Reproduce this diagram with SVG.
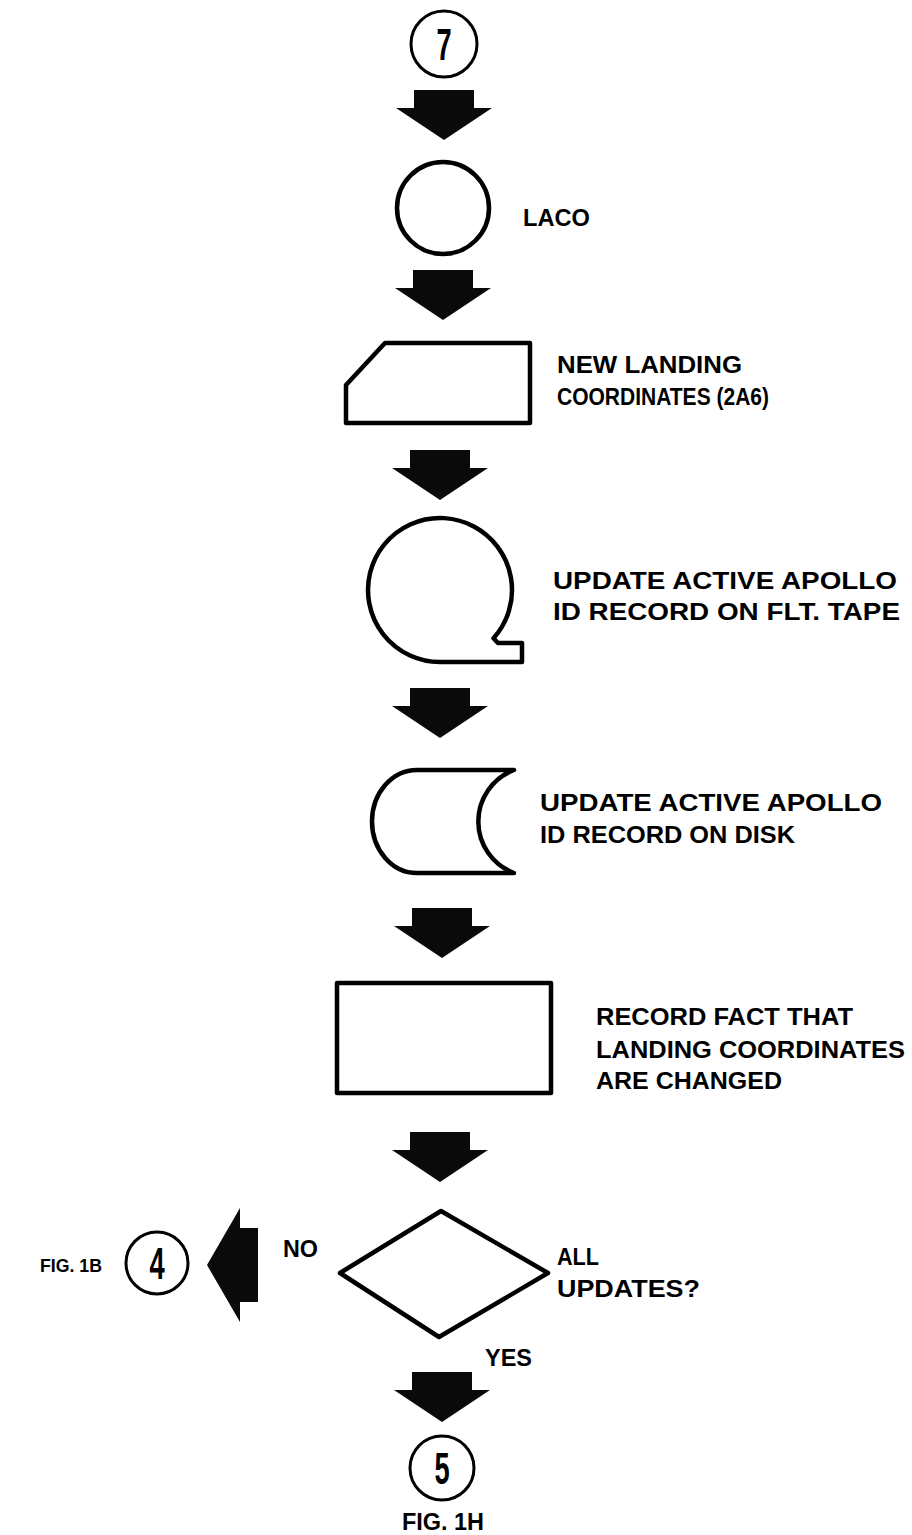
<svg xmlns="http://www.w3.org/2000/svg" width="912" height="1535" viewBox="0 0 912 1535">
<style>
.bg{fill:#fff}
.shape{fill:#fff;stroke:#000;stroke-width:4.5;stroke-linejoin:round}
.conn{fill:#fff;stroke:#000;stroke-width:3}
.arrow{fill:#0a0a0a}
.lbl{font-family:"Liberation Sans",Arial,sans-serif;font-weight:bold;font-size:23.5px;fill:#000}
.small{font-size:19px}
.num{font-family:"Liberation Sans",Arial,sans-serif;font-weight:bold;font-size:44px;fill:#000;text-anchor:middle}
</style>
<defs>
<path id="down" d="M -30 -50 L 30 -50 L 30 -32 L 48 -32 L 0 0 L -48 -32 L -30 -32 Z"/>
</defs>
<rect class="bg" x="0" y="0" width="912" height="1535"/>
<g id="connectors">
<use href="#down" class="arrow" transform="translate(444,140)"/>
<use href="#down" class="arrow" transform="translate(443,320)"/>
<use href="#down" class="arrow" transform="translate(440,500)"/>
<use href="#down" class="arrow" transform="translate(440,738)"/>
<use href="#down" class="arrow" transform="translate(442,958)"/>
<use href="#down" class="arrow" transform="translate(440,1182)"/>
<use href="#down" class="arrow" transform="translate(442,1422)"/>
<path class="arrow" d="M 207 1265 L 240 1208 L 240 1228 L 258 1228 L 258 1302 L 240 1302 L 240 1322 Z"/>
</g>
<g id="conn7">
<circle class="conn" cx="444" cy="44" r="33"/>
<text class="num" x="0" y="0" transform="translate(444,60) scale(0.62,1)">7</text>
</g>
<g id="laco">
<circle class="shape" cx="443" cy="208" r="46"/>
<text class="lbl" x="523" y="226" textLength="67" lengthAdjust="spacingAndGlyphs">LACO</text>
</g>
<g id="card">
<path class="shape" d="M 385 343 L 530 343 L 530 423 L 346 423 L 346 385 Z"/>
<text class="lbl" x="557" y="373" textLength="185" lengthAdjust="spacingAndGlyphs">NEW LANDING</text>
<text class="lbl" x="557" y="405" textLength="212" lengthAdjust="spacingAndGlyphs">COORDINATES (2A6)</text>
</g>
<g id="tape">
<path class="shape" d="M 440 662 A 72 72 0 1 1 493.5 638.2 L 498 643 L 522 643 L 522 662 Z"/>
<text class="lbl" x="553" y="589" textLength="344" lengthAdjust="spacingAndGlyphs">UPDATE ACTIVE APOLLO</text>
<text class="lbl" x="553" y="620" textLength="347" lengthAdjust="spacingAndGlyphs">ID RECORD ON FLT. TAPE</text>
</g>
<g id="disk">
<path class="shape" d="M 514 770 L 417 770 A 45 51.5 0 0 0 417 873 L 514 873 A 55 55 0 0 1 514 770 Z"/>
<text class="lbl" x="540" y="811" textLength="342" lengthAdjust="spacingAndGlyphs">UPDATE ACTIVE APOLLO</text>
<text class="lbl" x="540" y="843" textLength="255" lengthAdjust="spacingAndGlyphs">ID RECORD ON DISK</text>
</g>
<g id="process">
<rect class="shape" x="337" y="983" width="214" height="110"/>
<text class="lbl" x="596" y="1025" textLength="257" lengthAdjust="spacingAndGlyphs">RECORD FACT THAT</text>
<text class="lbl" x="596" y="1058" textLength="309" lengthAdjust="spacingAndGlyphs">LANDING COORDINATES</text>
<text class="lbl" x="596" y="1089" textLength="186" lengthAdjust="spacingAndGlyphs">ARE CHANGED</text>
</g>
<g id="decision">
<path class="shape" d="M 340 1273 L 441 1211 L 548 1273 L 439 1337 Z"/>
<text class="lbl" x="557" y="1265" textLength="42" lengthAdjust="spacingAndGlyphs">ALL</text>
<text class="lbl" x="557" y="1297" textLength="143" lengthAdjust="spacingAndGlyphs">UPDATES?</text>
<text class="lbl" x="283" y="1257" textLength="35" lengthAdjust="spacingAndGlyphs">NO</text>
<text class="lbl" x="485" y="1366" textLength="47" lengthAdjust="spacingAndGlyphs">YES</text>
</g>
<g id="conn4">
<circle class="conn" cx="157" cy="1263" r="31"/>
<text class="num" x="0" y="0" transform="translate(157,1279) scale(0.62,1)">4</text>
<text class="lbl small" x="40" y="1272" textLength="62" lengthAdjust="spacingAndGlyphs">FIG. 1B</text>
</g>
<g id="conn5">
<circle class="conn" cx="442" cy="1468" r="32"/>
<text class="num" x="0" y="0" transform="translate(442,1484) scale(0.62,1)">5</text>
<text class="lbl" x="402" y="1530" textLength="82" lengthAdjust="spacingAndGlyphs">FIG. 1H</text>
</g>
</svg>
